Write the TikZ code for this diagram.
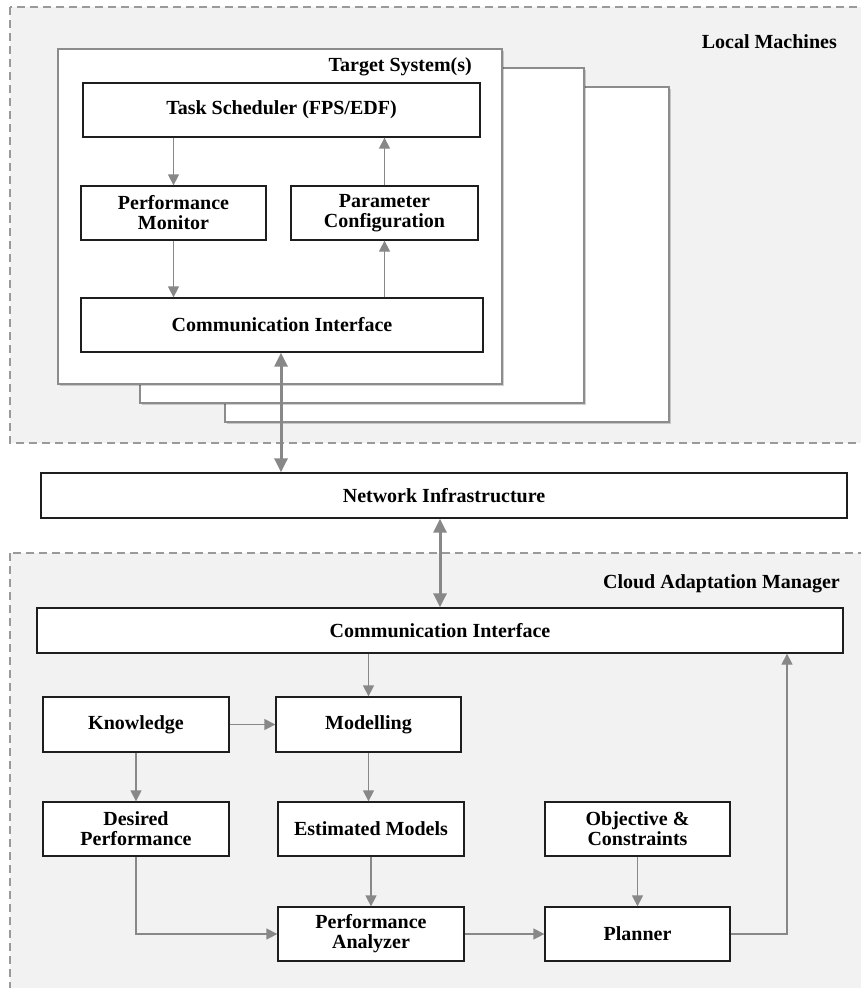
\documentclass[tikz,border=0pt]{standalone}
\usepackage{fontspec}
\setmainfont{Liberation Serif}
\usetikzlibrary{arrows.meta,shadows}

\definecolor{regionfill}{HTML}{F2F2F2}
\definecolor{dashgray}{HTML}{9A9A9A}
\definecolor{arrowgray}{HTML}{888888}
\definecolor{stackgray}{HTML}{8C8C8C}
\definecolor{boxline}{HTML}{1E1E1E}

\tikzset{
  region/.style={fill=regionfill, draw=dashgray, line width=1.1pt, dash pattern=on 8pt off 5pt},
  stackbox/.style={fill=white, draw=stackgray, line width=1.2pt,
    drop shadow={shadow xshift=1.5pt, shadow yshift=-1.5pt, opacity=0.18, fill=black}},
  block/.style={rectangle, fill=white, draw=boxline, line width=1.3pt, align=center,
    inner sep=0pt, font=\bfseries\fontsize{20}{20}\selectfont,
    drop shadow={shadow xshift=1.2pt, shadow yshift=-1.2pt, opacity=0.15, fill=black}},
  title/.style={font=\bfseries\fontsize{20}{20}\selectfont, anchor=east, inner sep=0pt},
  flow/.style={draw=arrowgray, line width=1.3pt,
    -{Triangle[length=11pt,width=11pt]}},
  link/.style={draw=arrowgray, line width=3pt,
    {Triangle[length=14pt,width=13pt]}-{Triangle[length=14pt,width=13pt]}},
}

\begin{document}
\begin{tikzpicture}[x=1pt, y=-1pt]
  \useasboundingbox (0,0) rectangle (861,988);

  % dashed regions (their right and lower sides run past the page)
  \path[region] (10,7) rectangle (875,443);
  \path[region] (10,553) rectangle (875,1000);
  \node[title] (lmlabel) at (837,42) {Local Machines};
  \node[title] (camlabel) at (840,584) {Cloud Adaptation Manager};

  % stack of target systems
  \path[stackbox] (225,87) rectangle (669,422);
  \path[stackbox] (140,68) rectangle (584,403);
  \path[stackbox] (58,49) rectangle (502,384);
  \node[title] (tslabel) at (472,67) {Target System(s)};

  % local blocks
  \node[block, minimum width=397pt, minimum height=54pt] (sched) at (281.5,110) {Task Scheduler (FPS/EDF)};
  \node[block, minimum width=185pt, minimum height=54pt] (pmon) at (173.5,213) {Performance\\Monitor};
  \node[block, minimum width=187pt, minimum height=54pt] (pconf) at (384.5,213) {Parameter\\Configuration};
  \node[block, minimum width=402pt, minimum height=54pt] (lci) at (282,325) {Communication Interface};

  % network
  \node[block, minimum width=806pt, minimum height=45pt] (net) at (444,495.5) {Network Infrastructure};

  % cloud blocks
  \node[block, minimum width=806pt, minimum height=45pt] (cci) at (440,630.5) {Communication Interface};
  \node[block, minimum width=186pt, minimum height=55pt] (know) at (136,724.5) {Knowledge};
  \node[block, minimum width=185pt, minimum height=55pt] (model) at (368.5,724.5) {Modelling};
  \node[block, minimum width=186pt, minimum height=54pt] (desired) at (136,829) {Desired\\Performance};
  \node[block, minimum width=186pt, minimum height=54pt] (est) at (371,829) {Estimated Models};
  \node[block, minimum width=185pt, minimum height=54pt] (obj) at (637.5,829) {Objective \&\\Constraints};
  \node[block, minimum width=186pt, minimum height=54pt] (anal) at (371,934) {Performance\\Analyzer};
  \node[block, minimum width=185pt, minimum height=54pt] (plan) at (637.5,934) {Planner};

  % local flows
  \draw[flow] (sched.south -| pmon) -- (pmon.north);
  \draw[flow] (pmon.south) -- (lci.north -| pmon);
  \draw[flow] (lci.north -| pconf) -- (pconf.south);
  \draw[flow] (pconf.north) -- (sched.south -| pconf);

  % links through the network
  \coordinate (upx) at (281,0);
  \coordinate (dnx) at (440,0);
  \draw[link] (lci.south -| upx) -- (net.north -| upx);
  \draw[link] (net.south -| dnx) -- (cci.north -| dnx);

  % cloud flows
  \draw[flow] (cci.south -| model) -- (model.north);
  \draw[flow] (know.east) -- (model.west);
  \draw[flow] (know.south) -- (desired.north);
  \draw[flow] (model.south) -- (est.north -| model);
  \draw[flow] (est.south) -- (anal.north);
  \draw[flow] (desired.south) |- (anal.west);
  \draw[flow] (anal.east) -- (plan.west);
  \draw[flow] (obj.south) -- (plan.north);
  \coordinate (back) at (787,0);
  \draw[flow] (plan.east) -| (cci.south -| back);
\end{tikzpicture}
\end{document}
